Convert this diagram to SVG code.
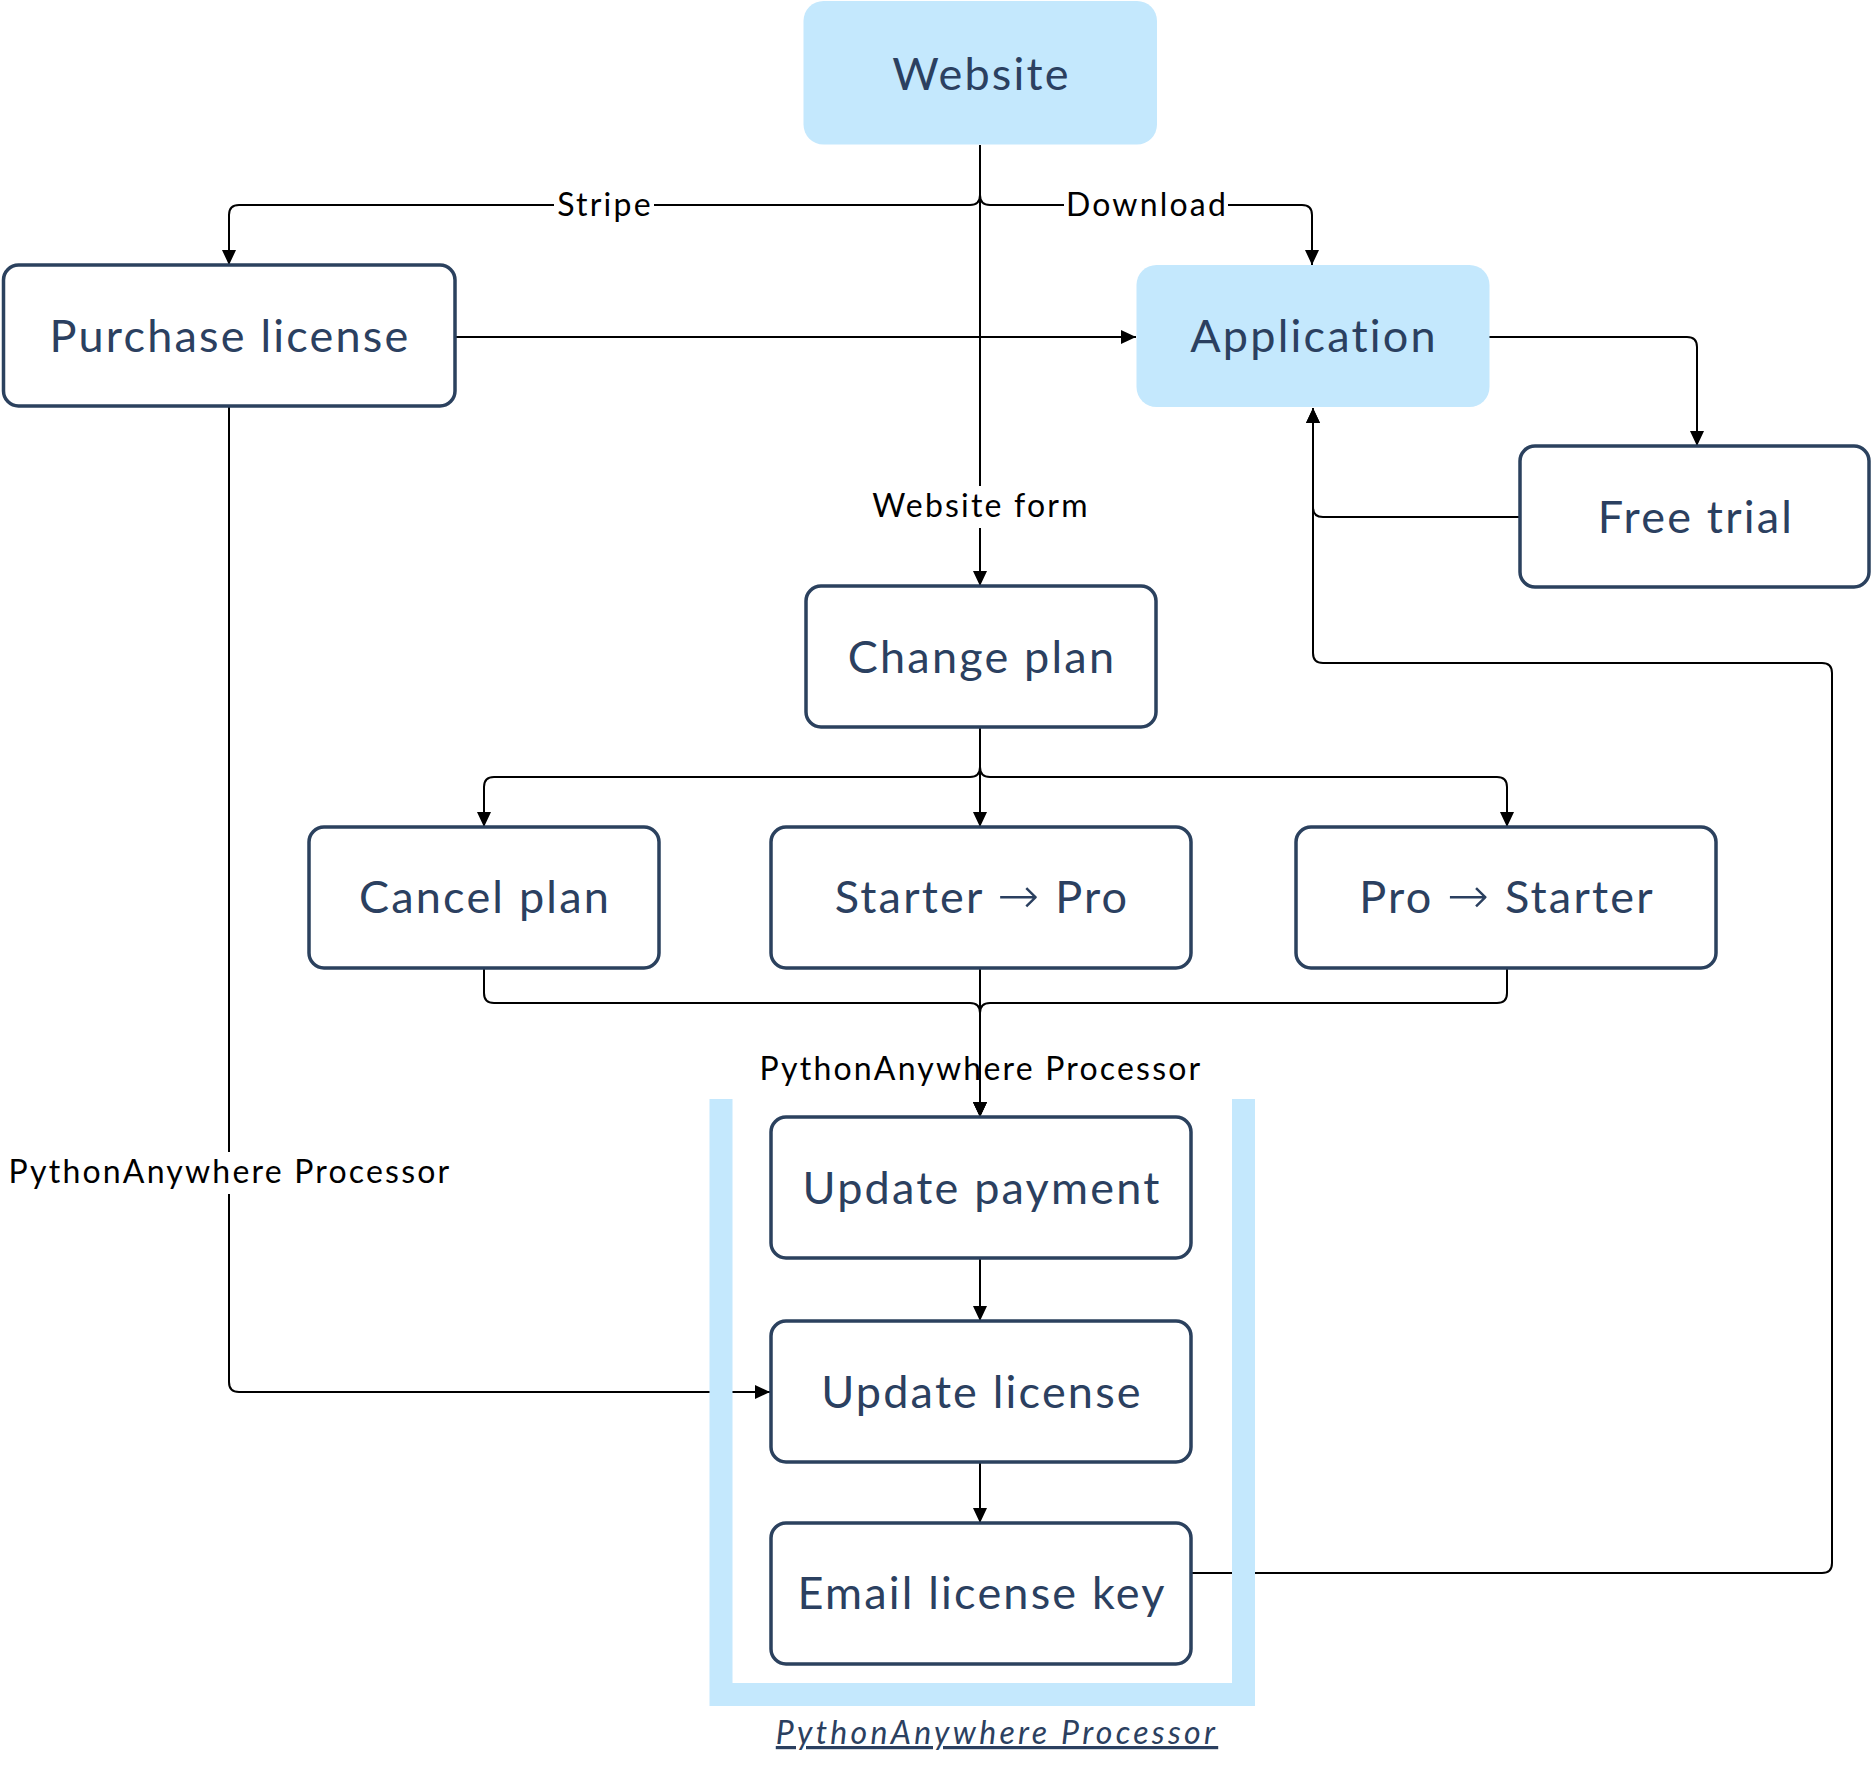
<svg xmlns="http://www.w3.org/2000/svg" width="1872" height="1774" viewBox="0 0 1872 1774">
<style>
.box{fill:#ffffff;stroke:#2b415e;stroke-width:3.5}
.fill{fill:#c4e8fd;stroke:none}
.nt{font-family:Lato,"Noto Sans",sans-serif;font-size:45px;fill:#2b4060;text-anchor:middle;letter-spacing:2.2px}
.ar{font-family:"DejaVu Sans",sans-serif;font-weight:200;font-size:50px}
.lt{font-family:Lato,"Noto Sans",sans-serif;font-size:32px;fill:#000000;text-anchor:middle;letter-spacing:2.2px}
.edge{fill:none;stroke:#000000;stroke-width:2}
.lbg{fill:#ffffff}
.grp{fill:none;stroke:#c4e8fd;stroke-width:23;stroke-linejoin:miter;stroke-linecap:butt}
.gl{font-family:Lato,"Noto Sans",sans-serif;font-size:32px;font-style:italic;text-decoration:underline;fill:#2b4060;text-anchor:middle;letter-spacing:3.3px}
</style>
<defs>
<marker id="arr" markerUnits="userSpaceOnUse" markerWidth="16" markerHeight="14" refX="15" refY="7" orient="auto">
<path d="M0,0 L15,7 L0,14 z" fill="#000000"/>
</marker>
</defs>
<rect width="1872" height="1774" fill="#ffffff"/>
<g id="connectors">
<path class="edge" d="M980,145 V195 Q980,205 970,205 H239 Q229,205 229,215 V265" marker-end="url(#arr)"/>
<path class="edge" d="M980,145 V195 Q980,205 990,205 H1302 Q1312,205 1312,215 V265" marker-end="url(#arr)"/>
<path class="edge" d="M980,145 V586" marker-end="url(#arr)"/>
<path class="edge" d="M455,337 H1136" marker-end="url(#arr)"/>
<path class="edge" d="M1489,337 H1687 Q1697,337 1697,347 V446" marker-end="url(#arr)"/>
<path class="edge" d="M1520,517 H1323 Q1313,517 1313,507 V408" marker-end="url(#arr)"/>
<path class="edge" d="M1190,1573 H1822 Q1832,1573 1832,1563 V673 Q1832,663 1822,663 H1323 Q1313,663 1313,653 V408" marker-end="url(#arr)"/>
<path class="edge" d="M229,406 V1382 Q229,1392 239,1392 H770" marker-end="url(#arr)"/>
<path class="edge" d="M980,727 V767 Q980,777 970,777 H494 Q484,777 484,787 V827" marker-end="url(#arr)"/>
<path class="edge" d="M980,727 V827" marker-end="url(#arr)"/>
<path class="edge" d="M980,727 V767 Q980,777 990,777 H1497 Q1507,777 1507,787 V827" marker-end="url(#arr)"/>
<path class="edge" d="M484,968 V993 Q484,1003 494,1003 H970 Q980,1003 980,1013 V1117" marker-end="url(#arr)"/>
<path class="edge" d="M980,968 V1117" marker-end="url(#arr)"/>
<path class="edge" d="M1507,968 V993 Q1507,1003 1497,1003 H990 Q980,1003 980,1013 V1117" marker-end="url(#arr)"/>
<path class="edge" d="M980,1258 V1321" marker-end="url(#arr)"/>
<path class="edge" d="M980,1462 V1523" marker-end="url(#arr)"/>
<rect class="lbg" x="554" y="188" width="100" height="34"/>
<text class="lt" x="605" y="216">Stripe</text>
<rect class="lbg" x="1064" y="188" width="164" height="34"/>
<text class="lt" x="1147" y="216">Download</text>
<rect class="lbg" x="870" y="486" width="220" height="42"/>
<text class="lt" x="981" y="517">Website form</text>
<rect class="lbg" x="5" y="1152" width="448" height="42"/>
<text class="lt" x="230" y="1183">PythonAnywhere Processor</text>
<text class="lt" x="981" y="1080">PythonAnywhere Processor</text>
</g>
<g id="group-pythonanywhere">
<path class="grp" d="M721,1099 V1694.5 H1243.5 V1099"/>
<text class="gl" x="997" y="1744">PythonAnywhere Processor</text>
</g>
<g id="website"><rect class="fill" x="803.5" y="1" width="353.5" height="143.5" rx="20"/><text class="nt" x="981.5" y="90">Website</text></g>
<g id="purchase-license"><rect class="box" x="3.5" y="265" width="451.5" height="141" rx="15"/><text class="nt" x="230" y="352">Purchase license</text></g>
<g id="application"><rect class="fill" x="1136.5" y="265" width="353" height="142" rx="20"/><text class="nt" x="1314" y="352">Application</text></g>
<g id="free-trial"><rect class="box" x="1520" y="446" width="349" height="141" rx="15"/><text class="nt" x="1696" y="533">Free trial</text></g>
<g id="change-plan"><rect class="box" x="806" y="586" width="350" height="141" rx="15"/><text class="nt" x="982" y="673">Change plan</text></g>
<g id="cancel-plan"><rect class="box" x="309" y="827" width="350" height="141" rx="15"/><text class="nt" x="485" y="913">Cancel plan</text></g>
<g id="starter-pro"><rect class="box" x="771" y="827" width="420" height="141" rx="15"/><text class="nt" x="982" y="913">Starter <tspan class="ar">→</tspan> Pro</text></g>
<g id="pro-starter"><rect class="box" x="1296" y="827" width="420" height="141" rx="15"/><text class="nt" x="1507" y="913">Pro <tspan class="ar">→</tspan> Starter</text></g>
<g id="update-payment"><rect class="box" x="771" y="1117" width="420" height="141" rx="15"/><text class="nt" x="982" y="1204">Update payment</text></g>
<g id="update-license"><rect class="box" x="771" y="1321" width="420" height="141" rx="15"/><text class="nt" x="982" y="1408">Update license</text></g>
<g id="email-license-key"><rect class="box" x="771" y="1523" width="420" height="141" rx="15"/><text class="nt" x="982" y="1609">Email license key</text></g>
</svg>
